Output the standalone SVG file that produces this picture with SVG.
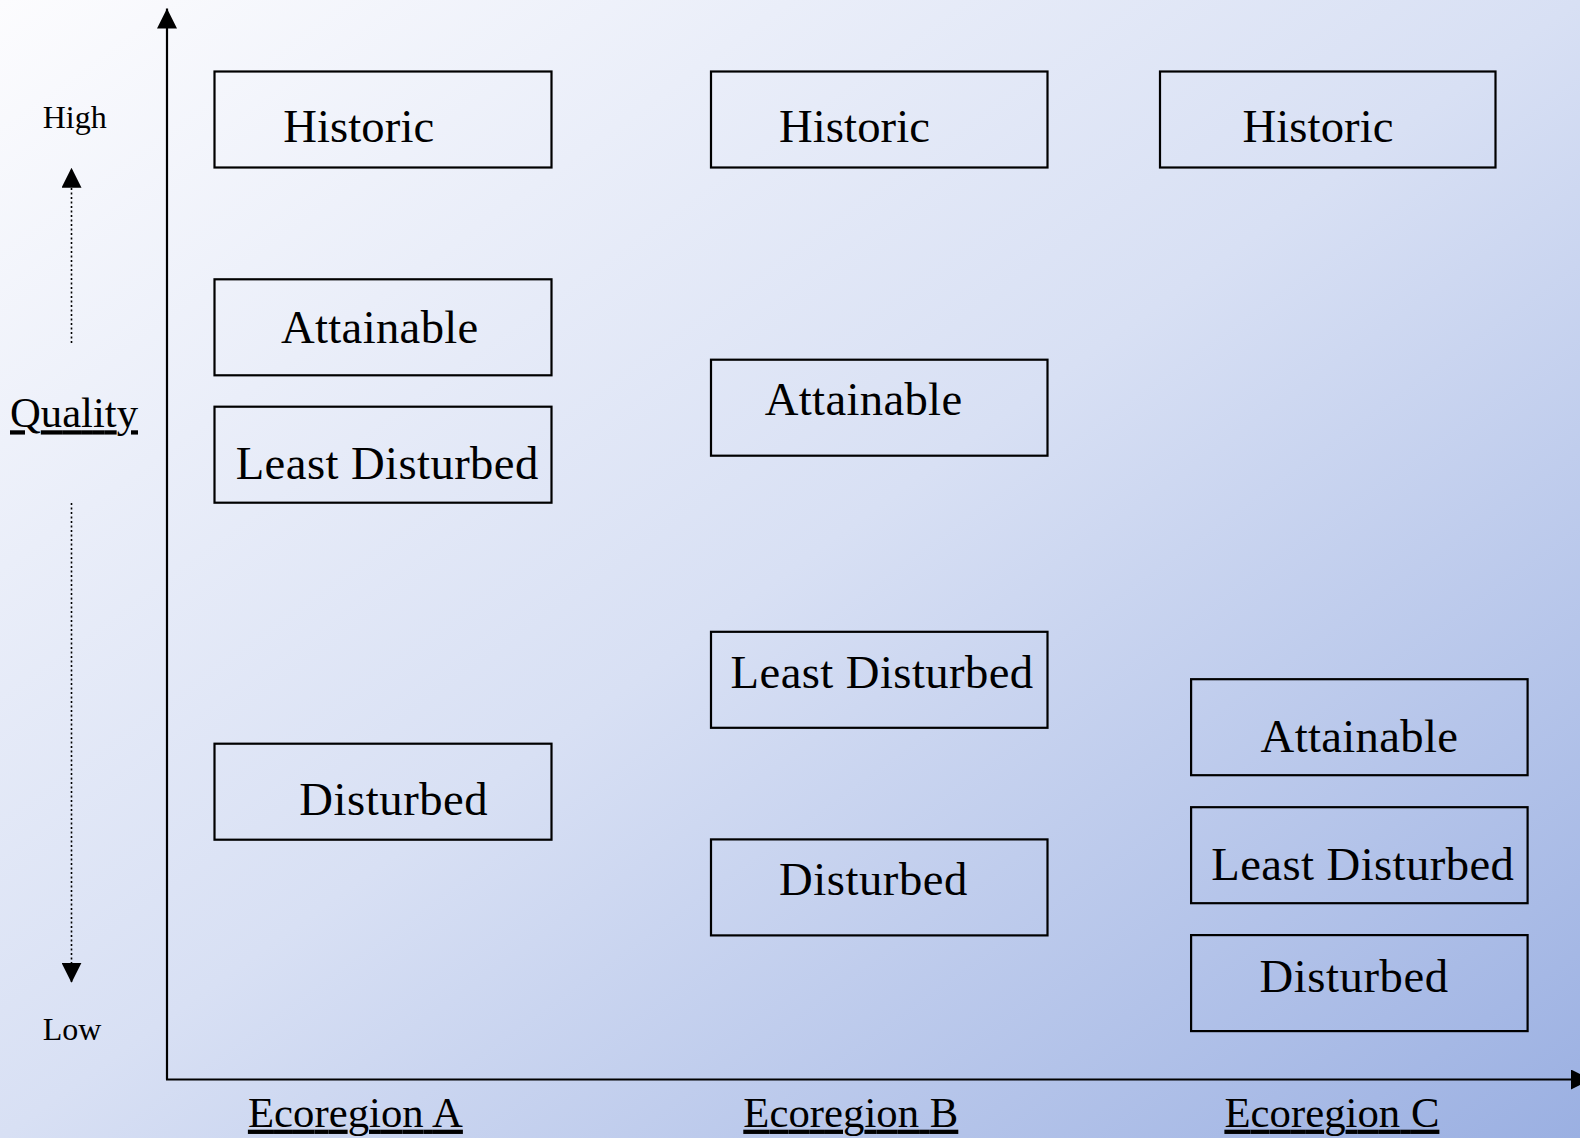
<svg xmlns="http://www.w3.org/2000/svg" width="1580" height="1138" viewBox="0 0 1580 1138">
<defs>
<linearGradient id="bg" x1="0" y1="0" x2="1" y2="1">
<stop offset="0" stop-color="#fcfcfe"/>
<stop offset="0.5" stop-color="#d8e0f4"/>
<stop offset="1" stop-color="#9bb0e2"/>
</linearGradient>
<marker id="ah" viewBox="0 0 20 20" refX="20" refY="10" markerWidth="20" markerHeight="20" markerUnits="userSpaceOnUse" orient="auto">
<path d="M0,0 L20,10 L0,20 Z" fill="#000"/>
</marker>
<style>
.box{fill:none;stroke:#000;stroke-width:2.2}
.lbl{font-family:"Liberation Serif","Times New Roman",serif;font-size:46.67px;fill:#000}
.axl{font-family:"Liberation Serif","Times New Roman",serif;font-size:42.67px;fill:#000;text-decoration:underline}
.hl{font-family:"Liberation Serif","Times New Roman",serif;font-size:32px;fill:#000}
.axis{stroke:#000;stroke-width:2.2;fill:none}
.dot{stroke:#000;stroke-width:1.6;stroke-dasharray:2 2.5;fill:none}
</style>
</defs>
<rect x="0" y="0" width="1580" height="1138" fill="url(#bg)"/>

<g id="connectors">
<line class="axis" x1="167" y1="1079.5" x2="167" y2="8.5" marker-end="url(#ah)"/>
<line class="axis" x1="166" y1="1079.5" x2="1591" y2="1079.5" marker-end="url(#ah)"/>
<line class="dot" x1="71.5" y1="343" x2="71.5" y2="167.7" marker-end="url(#ah)"/>
<line class="dot" x1="71.5" y1="503" x2="71.5" y2="982.7" marker-end="url(#ah)"/>
</g>

<g id="axis-labels">
<text class="hl" x="42.7" y="128">High</text>
<text class="hl" x="42.7" y="1040">Low</text>
<text class="axl" x="10" y="427.3" textLength="128" lengthAdjust="spacing">Quality</text>
<text class="axl" x="247.9" y="1126.7" textLength="215" lengthAdjust="spacing">Ecoregion A</text>
<text class="axl" x="743.3" y="1126.7" textLength="215" lengthAdjust="spacing">Ecoregion B</text>
<text class="axl" x="1224.4" y="1126.7" textLength="215" lengthAdjust="spacing">Ecoregion C</text>
</g>

<g id="a-historic"><rect class="box" x="214.5" y="71.5" width="337" height="96"/><text class="lbl" x="283.2" y="142" textLength="151" lengthAdjust="spacing">Historic</text></g>
<g id="a-attainable"><rect class="box" x="214.5" y="279.3" width="337" height="96"/><text class="lbl" x="281" y="342.7" textLength="197.3" lengthAdjust="spacing">Attainable</text></g>
<g id="a-least"><rect class="box" x="214.5" y="406.7" width="337" height="96"/><text class="lbl" x="235.7" y="479.3" textLength="302.6" lengthAdjust="spacing">Least Disturbed</text></g>
<g id="a-disturbed"><rect class="box" x="214.5" y="743.7" width="337" height="96"/><text class="lbl" x="299.3" y="815.2" textLength="188.4" lengthAdjust="spacing">Disturbed</text></g>

<g id="b-historic"><rect class="box" x="711" y="71.5" width="336.5" height="96"/><text class="lbl" x="779" y="142" textLength="151" lengthAdjust="spacing">Historic</text></g>
<g id="b-attainable"><rect class="box" x="711" y="359.7" width="336.5" height="96"/><text class="lbl" x="764.8" y="415.2" textLength="197.3" lengthAdjust="spacing">Attainable</text></g>
<g id="b-least"><rect class="box" x="711" y="631.8" width="336.5" height="96"/><text class="lbl" x="730.6" y="688.3" textLength="302.6" lengthAdjust="spacing">Least Disturbed</text></g>
<g id="b-disturbed"><rect class="box" x="711" y="839.4" width="336.5" height="96"/><text class="lbl" x="779" y="894.8" textLength="188.4" lengthAdjust="spacing">Disturbed</text></g>

<g id="c-historic"><rect class="box" x="1160" y="71.5" width="335.5" height="96"/><text class="lbl" x="1242.5" y="142" textLength="151" lengthAdjust="spacing">Historic</text></g>
<g id="c-attainable"><rect class="box" x="1191.1" y="679.2" width="336.5" height="96"/><text class="lbl" x="1260.6" y="751.7" textLength="197.3" lengthAdjust="spacing">Attainable</text></g>
<g id="c-least"><rect class="box" x="1191.1" y="807.2" width="336.5" height="96"/><text class="lbl" x="1211.3" y="879.7" textLength="302.6" lengthAdjust="spacing">Least Disturbed</text></g>
<g id="c-disturbed"><rect class="box" x="1191.1" y="935.1" width="336.5" height="96"/><text class="lbl" x="1259.6" y="991.6" textLength="188.4" lengthAdjust="spacing">Disturbed</text></g>
</svg>
